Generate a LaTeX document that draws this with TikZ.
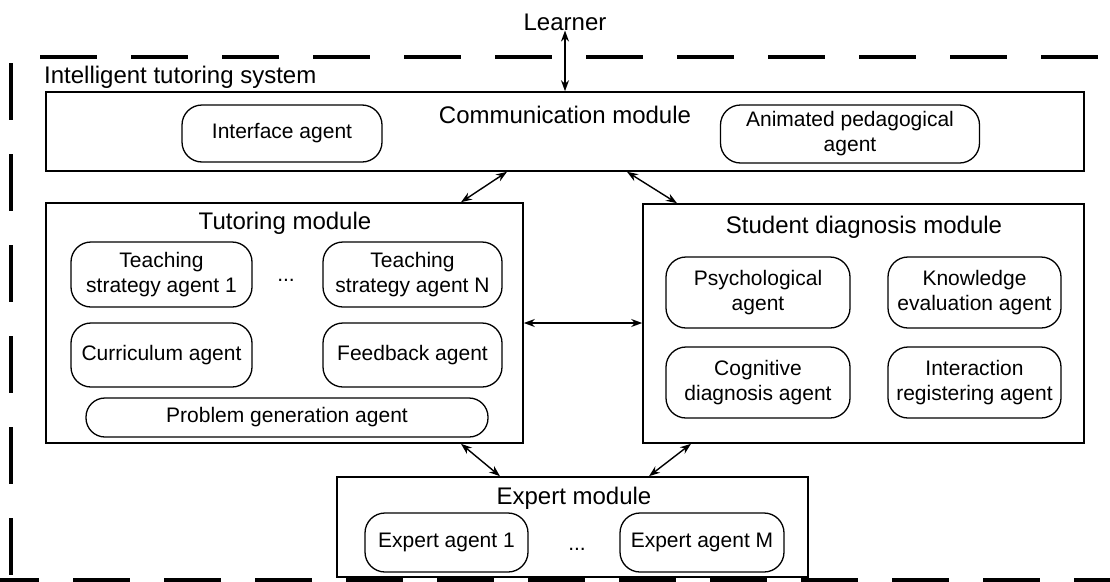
\documentclass[tikz,border=0pt]{standalone}
\usepackage{fontspec}
\setmainfont{Liberation Sans}
\usetikzlibrary{arrows.meta,calc}

\begin{document}
\begin{tikzpicture}[x=1pt,y=-1pt,
  module/.style={draw,line width=1.6pt,inner sep=0pt},
  agent/.style={draw,line width=1.3pt,rounded corners=20pt,align=center,inner sep=0pt,font=\fontsize{21}{25}\selectfont},
  head/.style={inner sep=0pt,font=\fontsize{24}{29}\selectfont},
  link/.style={line width=1.4pt,{Stealth[length=11pt,width=8pt]}-{Stealth[length=11pt,width=8pt]}},
  border/.style={line width=4pt,dash pattern=on 57pt off 34pt}]
\useasboundingbox (0,0) rectangle (1110,581);
% system border
\draw[border] (40,57) -- (1110,57);
\draw[border] (11,63) -- (11,581);
\draw[border] (-18,580) -- (1110,580);
\node[head] (learner) at (565,22) {Learner};
\node[head,anchor=west] (its) at (44,77) {Intelligent tutoring system};
% communication module
\node[module,minimum width=1038pt,minimum height=79pt] (comm) at (565,131.5) {};
\node[head] (commtitle) at (565,115) {Communication module};
\node[agent,minimum width=200pt,minimum height=57pt] (interface) at (282,133.5) {Interface agent};
\node[agent,minimum width=259pt,minimum height=58pt] (animated) at (850,134) {Animated pedagogical\\agent};
% tutoring module
\node[module,minimum width=477pt,minimum height=240pt] (tutor) at (284.5,323) {};
\node[head] (tutortitle) at (285,223) {Tutoring module};
\node[agent,minimum width=181pt,minimum height=65pt] (strategy1) at (161.5,274.5) {Teaching\\strategy agent 1};
\node[anchor=base,inner sep=0pt,font=\fontsize{21}{25}\selectfont] (tdots) at (286,281) {...};
\node[agent,minimum width=179pt,minimum height=65pt] (strategyN) at (412.5,274.5) {Teaching\\strategy agent N};
\node[agent,minimum width=181pt,minimum height=64pt] (curriculum) at (161.5,355) {Curriculum agent};
\node[agent,minimum width=179pt,minimum height=64pt] (feedback) at (412.5,355) {Feedback agent};
\node[agent,rounded corners=19pt,minimum width=402pt,minimum height=39pt] (problem) at (287,417.5) {Problem generation agent};
% student diagnosis module
\node[module,minimum width=441pt,minimum height=239pt] (student) at (863.5,323.5) {};
\node[head] (studenttitle) at (864,227) {Student diagnosis module};
\node[agent,minimum width=184pt,minimum height=71pt] (psych) at (758,292.5) {Psychological\\agent};
\node[agent,minimum width=173pt,minimum height=71pt] (knowledge) at (974.5,292.5) {Knowledge\\evaluation agent};
\node[agent,minimum width=184pt,minimum height=71pt] (cognitive) at (758,382.5) {Cognitive\\diagnosis agent};
\node[agent,minimum width=173pt,minimum height=71pt] (interaction) at (974.5,382.5) {Interaction\\registering agent};
% expert module
\node[module,minimum width=471pt,minimum height=100pt] (expert) at (572.5,527) {};
\node[head] (experttitle) at (574,498) {Expert module};
\node[agent,minimum width=163pt,minimum height=59pt] (expert1) at (446.5,542.5) {Expert agent 1};
\node[anchor=base,inner sep=0pt,font=\fontsize{21}{25}\selectfont] (edots) at (577,550) {...};
\node[agent,minimum width=164pt,minimum height=59pt] (expertM) at (702,542.5) {Expert agent M};
% links
\draw[link] (learner.south) -- (comm.north);
\draw[link] (comm.south -| 507,0) -- (tutor.north -| 461,0);
\draw[link] (comm.south -| 627,0) -- (student.north -| 677,0);
\draw[link] (tutor.east) -- (tutor.east -| student.west);
\draw[link] (tutor.south -| 461,0) -- (expert.north -| 500,0);
\draw[link] (student.south -| 691,0) -- (expert.north -| 649,0);
\end{tikzpicture}
\end{document}
